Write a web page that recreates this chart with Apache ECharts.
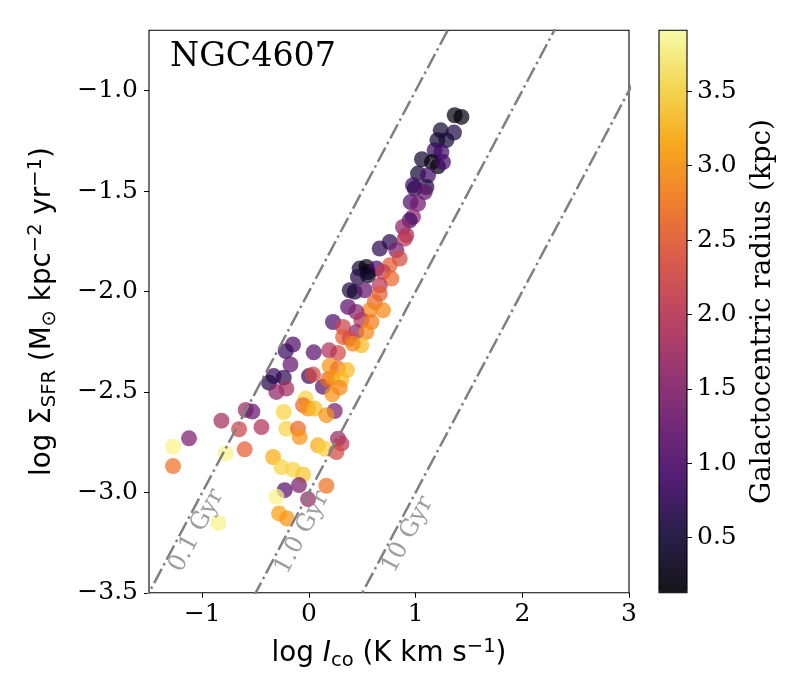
<!DOCTYPE html>
<html><head><meta charset="utf-8">
<script src="https://cdn.jsdelivr.net/npm/echarts@6/dist/echarts.min.js"></script>
<style>html,body{margin:0;padding:0;background:#fff}#c{width:800px;height:700px}</style>
</head><body><div id="c"></div>
<script>
// ---- data ----
const galaxy = 'NGC4607';
const logICO = [1.366,1.429,1.235,1.359,1.204,1.288,1.178,1.241,1.059,1.153,1.209,1.256,1.022,1.116,0.975,1.101,0.991,1.085,0.953,1.022,0.975,0.944,0.881,0.913,
0.897,0.757,0.663,0.819,0.850,0.757,0.475,0.538,0.553,0.632,0.459,0.553,0.694,0.772,0.663,0.382,0.428,0.522,0.663,0.616,0.694,0.569,0.366,0.444,0.491,0.585,
0.225,0.319,0.444,0.538,0.319,0.382,0.491,0.410,0.272,0.188,0.044,-0.150,-0.218,-0.174,0.194,0.272,0.356,-0.331,-0.375,-0.237,-0.306,-0.212,0.000,0.037,0.131,
0.178,0.219,0.304,0.219,-0.031,-0.056,-0.009,0.053,0.241,-0.237,0.163,-0.446,-0.212,-0.103,-0.087,0.084,0.147,0.272,0.304,0.257,-0.337,-0.259,-0.150,-0.056,
-0.094,-0.228,-0.306,-0.009,0.163,-0.281,-0.206,-1.275,-1.125,-1.275,-0.821,-0.781,-0.656,-0.603,-0.593,-0.531,-0.849,0.288];
const logSFR = [-1.123,-1.131,-1.198,-1.209,-1.247,-1.247,-1.297,-1.306,-1.342,-1.356,-1.377,-1.356,-1.413,-1.422,-1.471,-1.480,-1.488,-1.505,-1.555,-1.563,-1.629,-1.646,-1.679,-1.720,
-1.737,-1.754,-1.786,-1.795,-1.836,-1.870,-1.886,-1.878,-1.903,-1.886,-1.928,-1.920,-1.903,-1.936,-1.969,-1.994,-2.002,-1.994,-2.011,-2.053,-2.094,-2.094,-2.077,-2.102,-2.143,-2.152,
-2.152,-2.177,-2.202,-2.202,-2.227,-2.235,-2.268,-2.260,-2.306,-2.293,-2.303,-2.264,-2.297,-2.363,-2.371,-2.384,-2.391,-2.421,-2.454,-2.429,-2.500,-2.483,-2.421,-2.413,-2.474,
-2.438,-2.429,-2.438,-2.512,-2.533,-2.566,-2.583,-2.583,-2.595,-2.600,-2.616,-2.675,-2.683,-2.683,-2.725,-2.766,-2.783,-2.733,-2.757,-2.799,-2.824,-2.874,-2.887,-2.911,
-2.964,-2.989,-3.022,-3.034,-2.967,-3.105,-3.130,-2.773,-2.731,-2.869,-2.643,-2.806,-2.686,-2.786,-2.590,-2.598,-3.152,-2.479];
const radius = [0.2,0.2,0.45,0.6,0.45,0.5,0.8,0.85,0.45,0.2,0.2,0.9,0.45,0.9,0.9,0.6,0.7,1.2,1.0,1.3,1.6,0.9,1.6,1.9,
2.0,0.7,0.7,1.4,2.3,2.5,0.5,0.2,0.2,1.0,0.6,0.4,2.1,2.6,2.0,0.6,0.5,1.2,2.5,2.6,2.9,2.9,1.1,1.5,1.9,2.8,
1.0,2.2,1.6,2.9,2.5,2.3,3.3,2.9,2.3,1.9,1.1,1.0,0.8,1.2,3.0,2.7,3.3,0.8,0.6,0.7,1.6,1.8,0.8,2.3,1.1,
2.6,3.0,3.3,3.0,3.5,2.6,3.0,3.3,1.4,3.5,3.0,1.9,3.5,2.6,3.0,3.2,3.5,1.7,2.0,2.3,3.2,3.5,3.5,3.4,
1.4,1.1,3.8,1.7,2.7,3.1,3.0,3.8,1.4,2.7,1.8,3.8,2.2,2.5,1.7,1.2,3.8,2.9];
const tdepGyr = [0.1, 1, 10];
const tdepLabels = ['0.1 Gyr', '1.0 Gyr', '10 Gyr'];
const tdepLabelAt = [-1.16, -0.17, 0.82];
const xTicks = [-1, 0, 1, 2, 3];
const yTicks = [-3.5, -3, -2.5, -2, -1.5, -1];
const cbTicks = [0.5, 1, 1.5, 2, 2.5, 3, 3.5];
const xRange = [-1.5, 3], yRange = [-3.5, -0.7], rRange = [0.13, 3.91];

// ---- build ----
const inferno = ['#000004','#160b39','#420a68','#6a176e','#932667','#bc3754','#dd513a','#f37819','#fca50a','#f6d746','#fcffa4'];
const alpha = 0.9;
const cmap = inferno.map(h => {
  const r = parseInt(h.slice(1,3),16), g = parseInt(h.slice(3,5),16), b = parseInt(h.slice(5,7),16);
  return `rgba(${r},${g},${b},${alpha})`;
});
const pts = logICO.map((x, i) => [x, logSFR[i], radius[i]]);
const minus = s => String(s).replace('-', '\u2212');
const serif = 'DejaVu Serif', sans = 'DejaVu Sans';
const rich = {
  n: {fontFamily: sans, fontSize: 27.8, lineHeight: 34, color: '#000'},
  i: {fontFamily: sans, fontStyle: 'italic', fontSize: 27.8, lineHeight: 34, color: '#000'},
  sub: {fontFamily: sans, fontSize: 19.5, lineHeight: 20, verticalAlign: 'bottom', color: '#000'},
  sup: {fontFamily: sans, fontSize: 19.5, lineHeight: 20, verticalAlign: 'top', color: '#000'}
};
const lineSeries = tdepGyr.map(t => {
  const c = -3 - Math.log10(t);
  return {
    type: 'line', xAxisIndex: 0, yAxisIndex: 0, z: 5, clip: true, symbol: 'none', silent: true,
    data: [[xRange[0] - 1, xRange[0] - 1 + c], [xRange[1] + 1, xRange[1] + 1 + c]],
    lineStyle: {color: '#808080', width: 2.5, type: [16, 4, 2.5, 4]}
  };
});
const labelSeries = {
  type: 'scatter', xAxisIndex: 0, yAxisIndex: 0, z: 6, symbolSize: 0, silent: true,
  data: tdepGyr.map((t, i) => ({name: tdepLabels[i], value: [tdepLabelAt[i], tdepLabelAt[i] - 3 - Math.log10(t)]})),
  label: {show: true, position: 'inside', formatter: p => p.name, rotate: 62, offset: [0, 13],
    fontFamily: serif, fontSize: 24, color: '#858585'}
};
const tickStyle = {show: true, inside: false, length: 5, lineStyle: {color: '#000', width: 1}};
const option = {
  animation: false,
  backgroundColor: '#fff',
  title: {text: galaxy, left: 170, top: 41, padding: 0,
    textStyle: {fontFamily: serif, fontSize: 33.3, fontWeight: 'normal', color: '#000'}},
  grid: [
    {left: 149, top: 30.3, width: 480, height: 562.5, show: true, borderColor: '#000', borderWidth: 1.1, backgroundColor: 'transparent', containLabel: false},
    {left: 659, top: 30.3, width: 28, height: 562.5, show: true, borderColor: '#000', borderWidth: 1.1, backgroundColor: 'transparent', z: 10, containLabel: false}
  ],
  xAxis: [
    {type: 'value', gridIndex: 0, min: xRange[0], max: xRange[1],
      axisLine: {show: false, onZero: false}, splitLine: {show: false},
      axisTick: Object.assign({customValues: xTicks}, tickStyle),
      axisLabel: {customValues: xTicks, formatter: v => minus(v), fontFamily: serif, fontSize: 25, color: '#000', margin: 9},
      name: '{n|log }{i|I}{sub|co}{n| (K km s}{sup|\u22121}{n|)}',
      nameLocation: 'middle', nameGap: 44, nameTextStyle: {rich: rich}},
    {type: 'value', gridIndex: 1, min: 0, max: 1, show: false}
  ],
  yAxis: [
    {type: 'value', gridIndex: 0, min: yRange[0], max: yRange[1],
      axisLine: {show: false, onZero: false}, splitLine: {show: false},
      axisTick: Object.assign({customValues: yTicks}, tickStyle),
      axisLabel: {customValues: yTicks, formatter: v => minus(v.toFixed(1)), fontFamily: serif, fontSize: 25, color: '#000', margin: 11},
      name: '{n|log \u03a3}{sub|SFR}{n| (M}{sub|\u2299}{n| kpc}{sup|\u22122}{n| yr}{sup|\u22121}{n|)}',
      nameLocation: 'middle', nameRotate: 90, nameGap: 89, nameTextStyle: {rich: rich}},
    {type: 'value', gridIndex: 1, position: 'right', min: rRange[0], max: rRange[1], z: 10,
      axisLine: {show: false, onZero: false}, splitLine: {show: false},
      axisTick: Object.assign({customValues: cbTicks}, tickStyle),
      axisLabel: {customValues: cbTicks, formatter: v => v.toFixed(1), fontFamily: serif, fontSize: 25, color: '#000', margin: 10},
      name: 'Galactocentric radius (kpc)', nameLocation: 'middle', nameRotate: 90, nameGap: 61,
      nameTextStyle: {fontFamily: serif, fontSize: 27.8, color: '#000', lineHeight: 30}}
  ],
  visualMap: {
    type: 'continuous', seriesIndex: 0, dimension: 2, min: rRange[0], max: rRange[1],
    calculable: false, orient: 'vertical', left: 659, top: 30.3, itemWidth: 28, itemHeight: 562.5,
    padding: 0, showLabel: false, hoverLink: false,
    inRange: {color: cmap}
  },
  series: [
    {type: 'scatter', xAxisIndex: 0, yAxisIndex: 0, z: 3, symbolSize: 16, data: pts,
      itemStyle: {borderWidth: 0}},
    ...lineSeries,
    labelSeries
  ]
};
const chart = echarts.init(document.getElementById('c'), null, {renderer: 'canvas'});
chart.setOption(option);
</script></body></html>
